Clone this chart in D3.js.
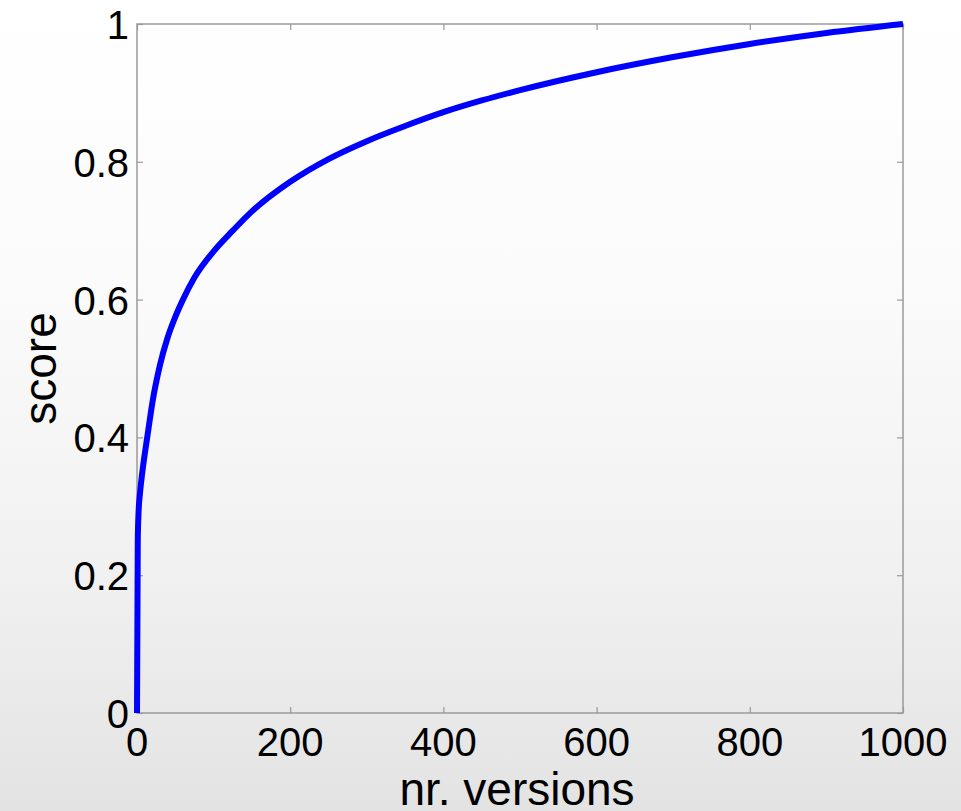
<!DOCTYPE html>
<html>
<head>
<meta charset="utf-8">
<script src="https://cdn.jsdelivr.net/npm/d3@7"></script>
<style>
  body { margin: 0; overflow: hidden; }
  svg { display: block; }
</style>
</head>
<body>
<div class="chart"></div>
<script>
// data: nr. versions vs score
var versions = [0, 1, 2, 4, 7, 10, 14, 20, 30, 40, 50, 60, 75, 100, 125, 150,
                200, 250, 300, 350, 400, 450, 500, 600, 700, 800, 900, 1000];
var scores = [0, 0.25, 0.29, 0.32, 0.35, 0.375, 0.405, 0.45, 0.505, 0.545, 0.575, 0.60,
              0.632, 0.67, 0.70, 0.728, 0.771, 0.804, 0.83, 0.852, 0.872, 0.889,
              0.904, 0.93, 0.952, 0.971, 0.987, 1.0];
var xTicks = [0, 200, 400, 600, 800, 1000];
var yTicks = [0, 0.2, 0.4, 0.6, 0.8, 1];

var width = 961;
var height = 811;
var margin = {left: 137, right: 58, top: 24, bottom: 98};

var points = [];
for(var i = 0; i < versions.length; i++) {
	points.push({x: versions[i], y: scores[i]});
}

var svg = d3.select(".chart").append("svg")
	.attr("width", width)
	.attr("height", height);

// faded grey slide background
var defs = svg.append("defs");
var grad = defs.append("linearGradient")
	.attr("id", "bg")
	.attr("x1", 0).attr("y1", 0).attr("x2", 0).attr("y2", 1);
grad.append("stop").attr("offset", "0%").attr("stop-color", "#ffffff");
grad.append("stop").attr("offset", "35%").attr("stop-color", "#fbfbfb");
grad.append("stop").attr("offset", "70%").attr("stop-color", "#f1f1f1");
grad.append("stop").attr("offset", "100%").attr("stop-color", "#e3e3e3");

svg.append("rect")
	.attr("width", width)
	.attr("height", height)
	.attr("fill", "url(#bg)");

var x = d3.scaleLinear()
	.domain([0, 1000])
	.range([margin.left, width - margin.right]);

var y = d3.scaleLinear()
	.domain([0, 1])
	.range([height - margin.bottom, margin.top]);

var axisColor = "#9a9a9a";
var tickLen = 6;
var fontFamily = "'Liberation Sans', Arial, sans-serif";

function styleAxis(g) {
	g.select(".domain").remove();
	g.selectAll(".tick line").attr("stroke", axisColor).attr("stroke-width", 1.2);
	g.selectAll(".tick text").remove();
}

// inward ticks on all four sides
svg.append("g")
	.attr("transform", "translate(0," + y(0) + ")")
	.call(d3.axisTop(x).tickValues(xTicks).tickSize(tickLen))
	.call(styleAxis);
svg.append("g")
	.attr("transform", "translate(0," + y(1) + ")")
	.call(d3.axisBottom(x).tickValues(xTicks).tickSize(tickLen))
	.call(styleAxis);
svg.append("g")
	.attr("transform", "translate(" + x(0) + ",0)")
	.call(d3.axisRight(y).tickValues(yTicks).tickSize(tickLen))
	.call(styleAxis);
svg.append("g")
	.attr("transform", "translate(" + x(1000) + ",0)")
	.call(d3.axisLeft(y).tickValues(yTicks).tickSize(tickLen))
	.call(styleAxis);

// box
svg.append("rect")
	.attr("x", x(0))
	.attr("y", y(1))
	.attr("width", x(1000) - x(0))
	.attr("height", y(0) - y(1))
	.attr("fill", "none")
	.attr("stroke", axisColor)
	.attr("stroke-width", 1.5);

// tick labels
svg.append("g").selectAll("text")
	.data(xTicks)
	.enter().append("text")
	.attr("x", function(d) { return x(d); })
	.attr("y", y(0) + 43)
	.attr("text-anchor", "middle")
	.attr("font-family", fontFamily)
	.attr("font-size", 40)
	.attr("fill", "#000")
	.text(function(d) { return d; });

svg.append("g").selectAll("text")
	.data(yTicks)
	.enter().append("text")
	.attr("x", x(0) - 8)
	.attr("y", function(d) { return y(d) + 15; })
	.attr("text-anchor", "end")
	.attr("font-family", fontFamily)
	.attr("font-size", 40)
	.attr("fill", "#000")
	.text(function(d) { return d; });

// axis titles
svg.append("text")
	.attr("x", (x(0) + x(1000)) / 2 - 3)
	.attr("y", 805)
	.attr("text-anchor", "middle")
	.attr("font-family", fontFamily)
	.attr("font-size", 46)
	.attr("fill", "#000")
	.text("nr. versions");

svg.append("text")
	.attr("transform", "translate(56," + ((y(0) + y(1)) / 2) + ") rotate(-90)")
	.attr("text-anchor", "middle")
	.attr("font-family", fontFamily)
	.attr("font-size", 46)
	.attr("fill", "#000")
	.text("score");

// the curve
var line = d3.line()
	.x(function(d) { return x(d.x); })
	.y(function(d) { return y(d.y); })
	.curve(d3.curveMonotoneX);

svg.append("path")
	.datum(points)
	.attr("d", line)
	.attr("fill", "none")
	.attr("stroke", "#0000ff")
	.attr("stroke-width", 6)
	.attr("stroke-linejoin", "round");
</script>
</body>
</html>
